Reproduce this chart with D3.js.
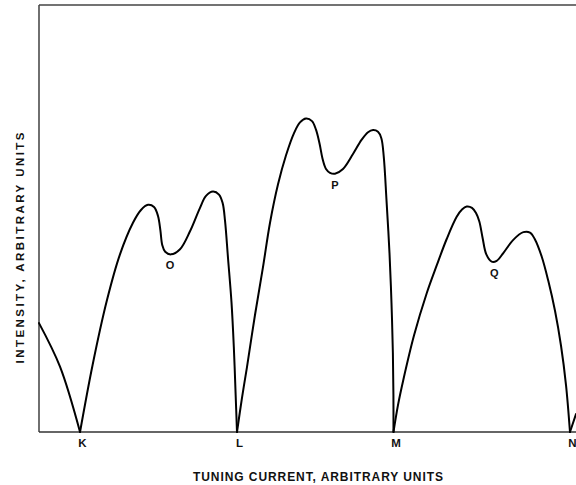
<!DOCTYPE html>
<html>
<head>
<meta charset="utf-8">
<script src="https://cdn.jsdelivr.net/npm/d3@7"></script>
<style>
  html, body { margin: 0; padding: 0; background: #fff; }
  svg { display: block; }
  text { font-family: "Liberation Sans", Arial, sans-serif; fill: #111; }
</style>
</head>
<body>
<svg id="chart" width="576" height="485"></svg>
<script>
// ---- data (arbitrary units: x 0..100 tuning current, y 0..100 intensity) ----
const segmentStart = [[0,25.5],[3.91,15.3],[7.64,0]];
const humpKL = [[7.64,0],[9.98,15.7],[12.66,30.9],[15.08,41.6],[17.5,49.0],[18.99,52.0],[20.3,53.2],[21.42,52.7],[22.16,50.6],[22.6,47.3],[22.95,43.8],[23.5,42.2],[24.58,41.6],[26.26,42.8],[28.12,47.0],[29.98,52.5],[31.1,55.3],[32.4,56.3],[33.52,55.6],[34.2,53.6],[34.64,49.5],[35.2,40.7],[35.85,30.3],[36.28,19.9],[36.62,8.7],[36.87,0]];
const humpLM = [[36.87,0],[37.8,8.0],[38.73,15.2],[40.22,27.4],[41.71,38.6],[43.02,49.0],[44.51,58.0],[46.0,64.8],[47.49,70.0],[48.6,72.5],[49.72,73.4],[50.84,72.8],[51.58,70.8],[52.25,67.5],[52.8,64.0],[53.45,61.6],[54.19,60.7],[55.12,60.5],[56.61,61.6],[58.47,65.1],[60.06,68.4],[61.27,70.2],[62.2,70.7],[63.13,70.3],[63.75,68.8],[64.2,64.5],[64.71,54.3],[65.27,41.9],[65.64,30.2],[65.9,18.5],[66.0,8.7],[66.01,0]];
const humpMN = [[66.01,0],[66.85,6.3],[67.84,12.2],[69.83,22.6],[72.2,32.5],[74.06,39.0],[75.92,45.2],[77.78,50.4],[78.77,52.1],[79.65,52.8],[80.63,52.5],[81.38,51.3],[82.0,49.3],[82.6,45.5],[83.3,41.6],[84.3,39.9],[85.23,40.1],[86.46,41.9],[88.32,45.0],[90.19,46.8],[91.43,46.7],[92.36,45.1],[93.61,41.1],[94.84,35.4],[96.09,28.4],[97.21,20.2],[98.14,11.0],[98.88,0]];
const segmentEnd = [[98.88,0],[100,4.2]];

const tickValues = [7.64, 36.87, 66.01, 98.88];
const tickLabels = ["K", "L", "M", "N"];

const dipNames = ["O", "P", "Q"];
const dipX = [24.4, 55.1, 84.8];
const dipY = [41.7, 60.5, 39.9];

const xTitle = "TUNING  CURRENT, ARBITRARY  UNITS";
const yTitle = "INTENSITY, ARBITRARY  UNITS";

// ---- layout ----
const svg = d3.select("#chart");
const mLeft = 39, mRight = 576, mTop = 5, mBottom = 432;

const x = d3.scaleLinear().domain([0, 100]).range([mLeft, mRight]);
const y = d3.scaleLinear().domain([0, 100]).range([mBottom, mTop]);

// frame: left and top lines
svg.append("line").attr("x1", mLeft).attr("x2", mLeft).attr("y1", mTop).attr("y2", mBottom)
  .attr("stroke", "#333").attr("stroke-width", 1.4);
svg.append("line").attr("x1", mLeft).attr("x2", mRight).attr("y1", mTop).attr("y2", mTop)
  .attr("stroke", "#444").attr("stroke-width", 1.4);

// bottom axis
const xAxis = d3.axisBottom(x).tickValues(tickValues)
  .tickFormat((d, i) => tickLabels[i]).tickSize(0).tickPadding(7);
const gx = svg.append("g").attr("transform", `translate(0,${mBottom})`).call(xAxis);
gx.select(".domain").attr("stroke", "#333").attr("stroke-width", 1.4).attr("d", `M${mLeft},0H${mRight}`);
gx.selectAll(".tick text").attr("font-size", 11.5).attr("font-weight", "bold")
  .attr("font-family", "Liberation Sans, Arial, sans-serif").attr("fill", "#111")
  .attr("dx", 2);

// curve
const line = d3.line().x(d => x(d[0])).y(d => y(d[1])).curve(d3.curveCatmullRom.alpha(0.5));
[segmentStart, humpKL, humpLM, humpMN, segmentEnd].forEach(seg => {
  svg.append("path").datum(seg).attr("d", line)
    .attr("fill", "none").attr("stroke", "#000").attr("stroke-width", 2)
    .attr("stroke-linejoin", "round").attr("stroke-linecap", "round");
});

// dip labels
svg.selectAll("text.dip").data(dipNames).enter().append("text")
  .attr("class", "dip")
  .attr("x", (d, i) => x(dipX[i]))
  .attr("y", (d, i) => y(dipY[i]) + 15)
  .attr("text-anchor", "middle").attr("font-size", 11).attr("font-weight", "bold")
  .text(d => d);

// axis titles
svg.append("text").attr("x", 318).attr("y", 481).attr("text-anchor", "middle")
  .attr("font-size", 12).attr("font-weight", "bold")
  .attr("textLength", 250).attr("lengthAdjust", "spacing")
  .text(xTitle);
svg.append("text").attr("transform", "translate(24,248) rotate(-90)")
  .attr("text-anchor", "middle").attr("font-size", 11.5).attr("font-weight", "bold")
  .attr("textLength", 231).attr("lengthAdjust", "spacing")
  .text(yTitle);
</script>
</body>
</html>
